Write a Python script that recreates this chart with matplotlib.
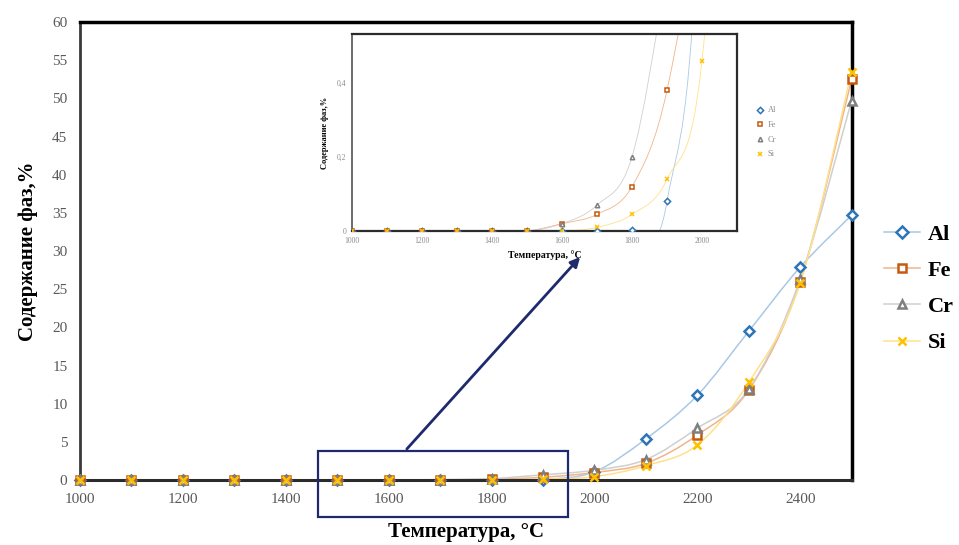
import matplotlib
matplotlib.use("Agg")
import matplotlib.pyplot as plt
from matplotlib.path import Path
from matplotlib.patches import PathPatch, Rectangle, FancyArrowPatch
from matplotlib.lines import Line2D

# temperatures, deg C
temp = [1000, 1100, 1200, 1300, 1400, 1500, 1600, 1700,
        1800, 1900, 2000, 2100, 2200, 2300, 2400, 2500]
# phase content, %
al = [0, 0, 0, 0, 0, 0, 0, 0, 0.003, 0.08, 1.1, 5.4, 11.1, 19.5, 27.9, 34.7]
fe = [0, 0, 0, 0, 0, 0, 0.02, 0.045, 0.12, 0.38, 1.0, 2.2, 5.9, 11.8, 26.0, 52.5]
cr = [0, 0, 0, 0, 0, 0, 0.02, 0.07, 0.2, 0.7, 1.3, 2.7, 6.8, 11.9, 26.3, 49.7]
si = [0, 0, 0, 0, 0, 0, 0, 0.01, 0.045, 0.14, 0.46, 1.9, 4.6, 12.8, 25.8, 53.5]

main_xticks = [1000, 1200, 1400, 1600, 1800, 2000, 2200, 2400]
main_yticks = list(range(0, 61, 5))
inset_xticks = [1000, 1200, 1400, 1600, 1800, 2000]
inset_yticks = [0, 0.2, 0.4]
inset_ylabels = ["0", "0,2", "0,4"]

SERIES = [
    ("Al", al, "D", "#2e75b6", "#a9c8e8"),
    ("Fe", fe, "s", "#c55a11", "#f0b48a"),
    ("Cr", cr, "^", "#7f7f7f", "#cfcfcf"),
    ("Si", si, "x", "#ffc000", "#ffe08a"),
]
SERIF = "Liberation Serif"
NAVY = "#1f2a6e"
TICK = "#595959"


def smooth(ax, x, y, color, lw):
    # excel-like smoothed line (catmull-rom as cubic bezier)
    n = len(x)
    verts = [(x[0], y[0])]
    codes = [Path.MOVETO]
    for i in range(n - 1):
        a = max(i - 1, 0)
        d = min(i + 2, n - 1)
        c1 = (x[i] + (x[i + 1] - x[a]) / 6, y[i] + (y[i + 1] - y[a]) / 6)
        c2 = (x[i + 1] - (x[d] - x[i]) / 6, y[i + 1] - (y[d] - y[i]) / 6)
        verts += [c1, c2, (x[i + 1], y[i + 1])]
        codes += [Path.CURVE4] * 3
    ax.add_patch(PathPatch(Path(verts, codes), fill=False, edgecolor=color,
                           lw=lw, zorder=2))


def draw_series(ax, ms, mew, lw, clip):
    for name, vals, mk, col, lcol in SERIES:
        smooth(ax, temp, vals, lcol, lw)
        face = col if mk == "x" else "white"
        ax.plot(temp, vals, ls="none", marker=mk, ms=ms, mfc=face, mec=col,
                mew=mew, zorder=3, clip_on=clip)


fig = plt.figure(figsize=(9.59, 5.45), dpi=100)

# main chart
ax = fig.add_axes([0.0834, 0.119, 0.8046, 0.8406])
draw_series(ax, 5.5, 1.8, 1.1, False)
ax.set_xlim(1000, 2500)
ax.set_ylim(0, 60)
ax.set_xticks(main_xticks)
ax.set_yticks(main_yticks)
ax.tick_params(length=0, labelsize=11, labelcolor=TICK, pad=9)
for lab in ax.get_xticklabels() + ax.get_yticklabels():
    lab.set_family(SERIF)
for side, w, c in (("top", 2.5, "black"), ("right", 2.5, "black"),
                   ("bottom", 2.2, "#2b2b2b"), ("left", 2.0, "#3a3a3a")):
    ax.spines[side].set_linewidth(w)
    ax.spines[side].set_color(c)
ax.set_xlabel("Температура, °C", family=SERIF, fontsize=15, fontweight="bold",
              labelpad=12)
ax.set_ylabel("Содержание фаз,%", family=SERIF, fontsize=15, fontweight="bold",
              labelpad=10)

handles = [Line2D([], [], color=lcol, lw=1.1, marker=mk, ms=6,
                  mfc=(col if mk == "x" else "white"), mec=col, mew=1.8,
                  label=name) for name, vals, mk, col, lcol in SERIES]
fig.legend(handles=handles, loc="center left", bbox_to_anchor=(0.922, 0.47),
           frameon=False, handlelength=1.6, handletextpad=0.35, labelspacing=0.7,
           borderaxespad=0, borderpad=0,
           prop={"family": SERIF, "size": 16, "weight": "bold"})

# zoom frame and arrow
ax.add_patch(Rectangle((1462, -4.85), 486, 8.65, fill=False, edgecolor=NAVY,
                       lw=1.6, clip_on=False, zorder=4))
fig.add_artist(FancyArrowPatch((405 / 959, 1 - 451 / 545), (582 / 959, 1 - 255 / 545),
                               transform=fig.transFigure, arrowstyle="-|>",
                               mutation_scale=14, color=NAVY, lw=2.0))

# inset
ins = fig.add_axes([0.367, 0.576, 0.4015, 0.3618])
draw_series(ins, 3.2, 1.1, 0.6, True)
ins.set_xlim(1000, 2100)
ins.set_ylim(0, 0.532)
ins.set_xticks(inset_xticks)
ins.set_yticks(inset_yticks)
ins.set_yticklabels(inset_ylabels)
ins.tick_params(length=0, labelsize=5.5, labelcolor="#8a8a8a", pad=4)
for lab in ins.get_xticklabels() + ins.get_yticklabels():
    lab.set_family(SERIF)
for side in ("top", "right", "bottom"):
    ins.spines[side].set_linewidth(1.6)
    ins.spines[side].set_color("#2b2b2b")
ins.spines["left"].set_linewidth(1.4)
ins.spines["left"].set_color("#6b6b6b")
ins.set_xlabel("Температура, °C", family=SERIF, fontsize=7, fontweight="bold",
               labelpad=4)
ins.set_ylabel("Содержание фаз,%", family=SERIF, fontsize=6, fontweight="bold",
               labelpad=6)
ins_handles = [Line2D([], [], ls="none", marker=mk, ms=3.2,
                      mfc=(col if mk == "x" else "white"), mec=col, mew=1.1,
                      label=name) for name, vals, mk, col, lcol in SERIES]
ins.legend(handles=ins_handles, loc="center left", bbox_to_anchor=(1.03, 0.5),
           frameon=False, handlelength=1.0, handletextpad=0.4, labelspacing=0.8,
           labelcolor="#8a8a8a", prop={"family": SERIF, "size": 6})

fig.savefig("out.png", dpi=100, facecolor="white")
